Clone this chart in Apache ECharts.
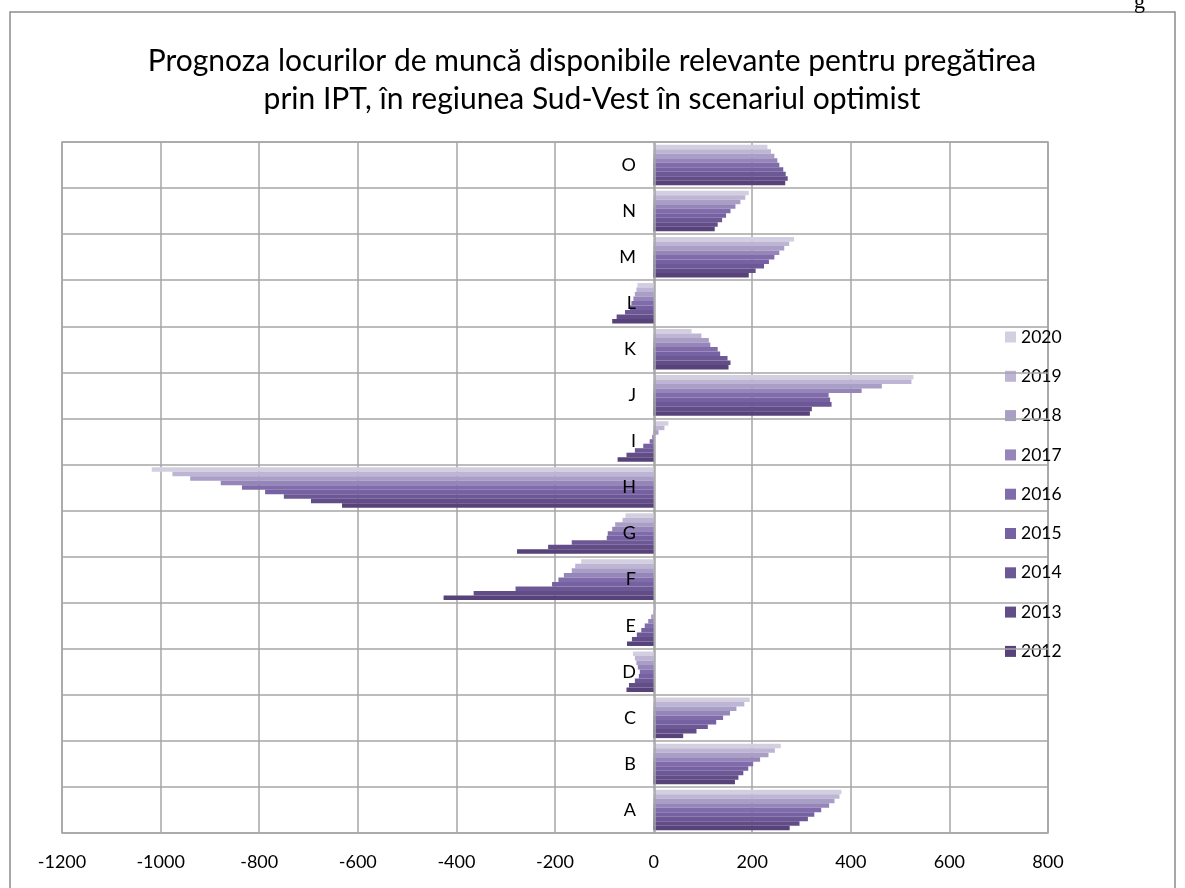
<!DOCTYPE html>
<html>
<head>
<meta charset="utf-8">
<script src="https://cdn.jsdelivr.net/npm/echarts@6/dist/echarts.min.js"></script>
<style>
  html, body { margin: 0; padding: 0; background: #fff; }
  #main { width: 1185px; height: 888px; }
</style>
</head>
<body>
<div id="main"></div>
<script>
// categorii (de jos in sus)
const categories = ['A', 'B', 'C', 'D', 'E', 'F', 'G', 'H', 'I', 'J', 'K', 'L', 'M', 'N', 'O']
const years = ['2012', '2013', '2014', '2015', '2016', '2017', '2018', '2019', '2020']

// valori, A..O
const v2012 = [276, 165, 60, -55, -54, -426, -277, -632, -73, 317, 152, -84, 193, 124, 267]
const v2013 = [296, 172, 87, -50, -44, -365, -214, -695, -55, 321, 156, -75, 207, 130, 272]
const v2014 = [313, 182, 110, -38, -34, -280, -166, -750, -38, 361, 150, -58, 224, 139, 268]
const v2015 = [326, 192, 127, -30, -25, -206, -95, -788, -21, 358, 135, -48, 234, 147, 263]
const v2016 = [340, 202, 141, -28, -18, -193, -93, -835, -8, 355, 130, -45, 245, 156, 255]
const v2017 = [356, 216, 155, -32, -11, -182, -84, -878, -3, 422, 115, -41, 255, 166, 251]
const v2018 = [367, 233, 168, -35, -5, -166, -78, -940, 10, 463, 112, -38, 265, 176, 245]
const v2019 = [377, 246, 184, -38, -1, -159, -63, -976, 22, 523, 97, -35, 275, 186, 238]
const v2020 = [381, 258, 195, -42, 5, -147, -57, -1018, 30, 527, 77, -33, 285, 193, 231]
const values = [v2012, v2013, v2014, v2015, v2016, v2017, v2018, v2019, v2020]

const colors = ['#57427a', '#624d88', '#6d5896', '#7662a2', '#806caa', '#9585b8', '#a99ec6', '#bdb5d3', '#d3cfe0']

const gridColor = '#a6a6a6'
const font = 'Lato'

// echarts pune prima serie sus, deci 2020 primul ca 2012 sa fie jos
const series = []
for (let i = years.length - 1; i >= 0; i--) {
    series.push({
        name: years[i],
        type: 'bar',
        data: values[i],
        barGap: '0%',
        barCategoryGap: '12%',
        itemStyle: { color: colors[i] }
    })
}

const myChart = echarts.init(document.getElementById('main'))
myChart.setOption({
    animation: false,
    title: {
        text: 'Prognoza locurilor de muncă disponibile relevante pentru pregătirea\nprin IPT, în regiunea Sud-Vest în scenariul optimist',
        left: 587,
        top: 37,
        textAlign: 'center',
        textStyle: {
            fontFamily: font,
            fontSize: 30,
            fontWeight: 'normal',
            color: '#000',
            lineHeight: 38
        }
    },
    legend: {
        orient: 'vertical',
        left: 1000,
        top: 323,
        itemGap: 21.3,
        itemWidth: 11,
        itemHeight: 11,
        icon: 'rect',
        data: years.slice().reverse(),
        textStyle: { fontFamily: font, fontSize: 17.5, color: '#000' }
    },
    grid: {
        left: 62,
        right: 137,
        top: 142,
        bottom: 55,
        show: true,
        borderColor: gridColor,
        borderWidth: 1.5
    },
    xAxis: {
        type: 'value',
        min: -1200,
        max: 800,
        interval: 200,
        axisLine: { show: false },
        axisTick: { show: false },
        axisLabel: {
            fontFamily: font, fontSize: 18, color: '#000', margin: 20,
            formatter: (v) => String(v)
        },
        splitLine: { lineStyle: { color: gridColor, width: 1.5 } }
    },
    yAxis: {
        type: 'category',
        data: categories,
        z: 5,
        offset: -593, // axa la 0, ca in Excel
        axisLine: { onZero: false, lineStyle: { color: gridColor, width: 1.5 } },
        axisTick: { show: false },
        axisLabel: { fontFamily: font, fontSize: 18, color: '#000', margin: 19 },
        splitLine: { show: true, interval: 0, lineStyle: { color: gridColor, width: 1.5 } }
    },
    graphic: [
        {
            type: 'rect',
            shape: { x: 10, y: 12, width: 1165, height: 880 },
            style: { fill: 'none', stroke: '#8c8c8c', lineWidth: 1.5 },
            silent: true
        },
        {
            type: 'text',
            left: 1134,
            top: -9,
            style: { text: 'g', font: '22px "Liberation Serif"', fill: '#000' }
        }
    ],
    series: series
})
</script>
</body>
</html>
